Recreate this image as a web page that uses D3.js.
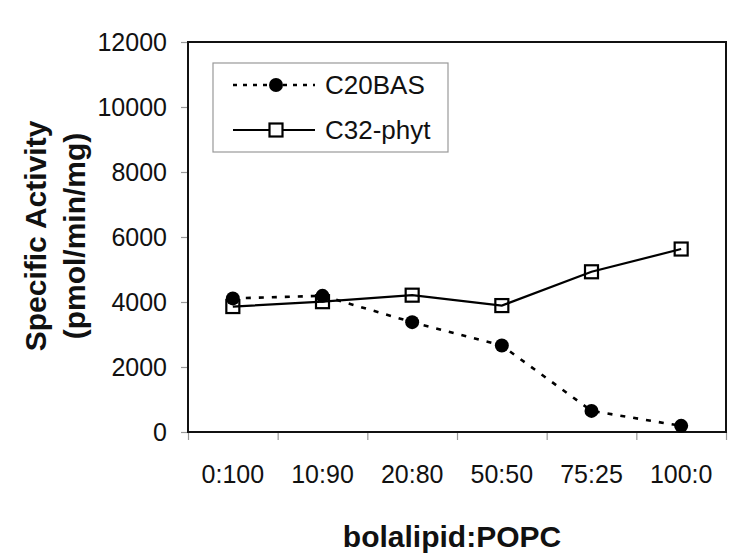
<!DOCTYPE html>
<html>
<head>
<meta charset="utf-8">
<script src="https://cdn.jsdelivr.net/npm/d3@7/dist/d3.min.js"></script>
<style>
  html, body { margin: 0; padding: 0; background: #fff; }
  svg { display: block; font-family: "Liberation Sans", Arial, sans-serif; }
</style>
</head>
<body>
<svg id="chart" width="750" height="559"></svg>
<script>
const categories = ["0:100", "10:90", "20:80", "50:50", "75:25", "100:0"];
const c20bas = [4110, 4190, 3380, 2660, 650, 190];
const c32phyt = [3860, 4010, 4210, 3890, 4930, 5630];
const yTicks = [0, 2000, 4000, 6000, 8000, 10000, 12000];
const seriesNames = ["C20BAS", "C32-phyt"];
const xTitle = "bolalipid:POPC";
const yTitle = ["Specific Activity", "(pmol/min/mg)"];

const svg = d3.select("#chart");
const L = 188, R = 726, T = 42, B = 432;

const x = d3.scaleBand().domain(categories).range([L, R]).padding(0);
const xEdges = d3.scaleLinear().domain([0, categories.length]).range([L, R]);
const y = d3.scaleLinear().domain([0, 12000]).range([B, T]);

// Y axis
const yAxis = svg.append("g").attr("transform", `translate(${L},0)`)
  .call(d3.axisLeft(y).tickValues(yTicks).tickSize(7).tickPadding(14).tickFormat(d3.format("d")));
yAxis.select(".domain").remove();
yAxis.selectAll(".tick line").attr("stroke", "#999").attr("stroke-width", 1.2);
yAxis.selectAll(".tick text").attr("font-size", 25).attr("fill", "#111")
  .attr("font-family", "Liberation Sans, Arial, sans-serif");

// X axis edge ticks
const xTickAxis = svg.append("g").attr("transform", `translate(0,${B})`)
  .call(d3.axisBottom(xEdges).tickValues(d3.range(categories.length + 1)).tickSize(8).tickFormat(""));
xTickAxis.select(".domain").remove();
xTickAxis.selectAll(".tick line").attr("stroke", "#999").attr("stroke-width", 1.2);

// X axis labels
const xAxis = svg.append("g").attr("transform", `translate(0,${B})`)
  .call(d3.axisBottom(x).tickSize(0).tickPadding(33));
xAxis.select(".domain").remove();
xAxis.selectAll(".tick text").attr("font-size", 25).attr("fill", "#111")
  .attr("font-family", "Liberation Sans, Arial, sans-serif");

// Frame
svg.append("rect").attr("x", L).attr("y", T).attr("width", R - L).attr("height", B - T)
  .attr("fill", "none").attr("stroke", "#111").attr("stroke-width", 2);

const cx = d => x(d) + x.bandwidth() / 2;

const line = d3.line().x(d => cx(d.c)).y(d => y(d.v));
const d1 = categories.map((c, i) => ({ c, v: c20bas[i] }));
const d2 = categories.map((c, i) => ({ c, v: c32phyt[i] }));

svg.append("path").datum(d2).attr("d", line).attr("fill", "none")
  .attr("stroke", "#000").attr("stroke-width", 2.2);
svg.append("path").datum(d1).attr("d", line).attr("fill", "none")
  .attr("stroke", "#000").attr("stroke-width", 2.6).attr("stroke-dasharray", "5,8");

svg.selectAll("circle.c20").data(d1).enter().append("circle").attr("class", "c20")
  .attr("cx", d => cx(d.c)).attr("cy", d => y(d.v)).attr("r", 7).attr("fill", "#000");

const sq = 13;
svg.selectAll("rect.c32").data(d2).enter().append("rect").attr("class", "c32")
  .attr("x", d => cx(d.c) - sq / 2).attr("y", d => y(d.v) - sq / 2)
  .attr("width", sq).attr("height", sq).attr("fill", "none")
  .attr("stroke", "#000").attr("stroke-width", 2.2);

// Legend
const lg = svg.append("g");
lg.append("rect").attr("x", 213).attr("y", 63).attr("width", 235).attr("height", 89)
  .attr("fill", "#fff").attr("stroke", "#999").attr("stroke-width", 1.2);
const rows = [85, 130];
lg.append("line").attr("x1", 233).attr("x2", 315).attr("y1", rows[0]).attr("y2", rows[0])
  .attr("stroke", "#000").attr("stroke-width", 2.6).attr("stroke-dasharray", "4,6");
lg.append("circle").attr("cx", 276).attr("cy", rows[0]).attr("r", 7).attr("fill", "#000");
lg.append("line").attr("x1", 233).attr("x2", 315).attr("y1", rows[1]).attr("y2", rows[1])
  .attr("stroke", "#000").attr("stroke-width", 2.2);
lg.append("rect").attr("x", 276 - sq / 2).attr("y", rows[1] - sq / 2).attr("width", sq).attr("height", sq)
  .attr("fill", "#fff").attr("stroke", "#000").attr("stroke-width", 2.2);
lg.selectAll("text.lt").data(seriesNames).enter().append("text").attr("class", "lt")
  .attr("x", 325).attr("y", (d, i) => rows[i] + 9).attr("font-size", 26).attr("fill", "#111")
  .text(d => d);

// Axis titles
svg.append("text").attr("x", 452).attr("y", 547).attr("text-anchor", "middle")
  .attr("font-size", 30).attr("font-weight", "bold").attr("fill", "#111").text(xTitle);

const yt = svg.append("g").attr("transform", "translate(0,236)");
yt.selectAll("text").data(yTitle).enter().append("text")
  .attr("transform", (d, i) => `translate(${i === 0 ? 46 : 85},0) rotate(-90)`)
  .attr("text-anchor", "middle").attr("font-size", 30).attr("font-weight", "bold")
  .attr("fill", "#111").text(d => d);
</script>
</body>
</html>
